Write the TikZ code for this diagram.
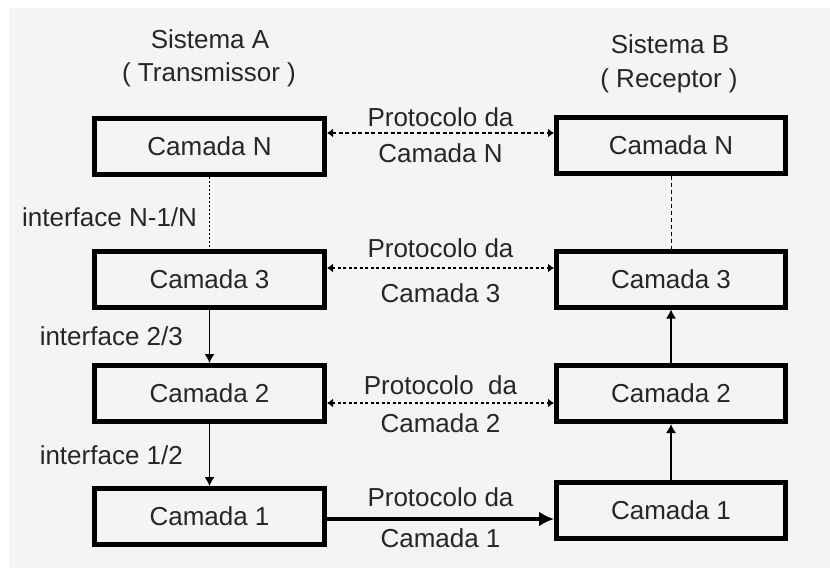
\documentclass[tikz,border=0pt]{standalone}
\usepackage{fontspec}
\setmainfont{Liberation Sans}
\usetikzlibrary{arrows.meta}
\definecolor{fundo}{HTML}{F4F4F4}
\tikzset{
  texto/.style={font=\fontsize{26}{30}\selectfont, inner sep=0pt, text=black!85},
  camada/.style={texto, draw=black, line width=5pt, minimum width=230pt, minimum height=56pt},
  protocolo/.style={line width=1.3pt, {Latex[length=6pt,width=9pt]}-{Latex[length=6pt,width=9pt]}},
  desce/.style={line width=1.3pt, -{Latex[length=9pt,width=10pt]}},
  pontilhado/.style={line width=1pt, dash pattern=on 2pt off 2pt}
}
\begin{document}
\begin{tikzpicture}[x=1pt,y=-1pt]
\useasboundingbox (0,0) rectangle (830,568);
\fill[white] (0,0) rectangle (830,568);
\fill[fundo] (9,8) rectangle (830,568);

% Sistema A (esquerda)
\node[texto, anchor=base] (tituloA) at (210,48) {Sistema A};
\node[texto, anchor=base] (papelA) at (209,81.5) {( Transmissor )};
\node[camada] (aN) at (209.5,146.5) {Camada N};
\node[camada] (a3) at (209.5,279.5) {Camada 3};
\node[camada] (a2) at (209.5,393.5) {Camada 2};
\node[camada] (a1) at (209.5,516.5) {Camada 1};

% Sistema B (direita)
\node[texto, anchor=base] (tituloB) at (670,53) {Sistema B};
\node[texto, anchor=base] (papelB) at (669,87) {( Receptor )};
\node[camada, minimum width=229pt] (bN) at (671,145) {Camada N};
\node[camada, minimum width=229pt] (b3) at (671,279) {Camada 3};
\node[camada, minimum width=229pt] (b2) at (671,393.5) {Camada 2};
\node[camada, minimum width=229pt] (b1) at (671,510) {Camada 1};

% interfaces
\draw[pontilhado] (aN) -- (a3)
  node[texto, midway, left=12pt, yshift=-4pt] (ifN) {interface N-1/N};
\draw[desce] (a3) -- (a2)
  node[texto, midway, left=26pt] (if23) {interface 2/3};
\draw[desce] (a2) -- (a1)
  node[texto, midway, left=26pt] (if12) {interface 1/2};
\draw[pontilhado, dash pattern=on 4pt off 3pt] (bN) -- (b3);
\draw[desce] (b1) -- (b2);
\draw[desce] (b2) -- (b3);

% protocolos entre camadas pares
\draw[protocolo, dash pattern=on 4pt off 2.5pt] ([yshift=13.5pt]aN.east) -- ([yshift=13.5pt]aN.east -| bN.west)
  node[texto, midway, yshift=16pt] (pN) {Protocolo da}
  node[texto, midway, yshift=-20pt] (cN) {Camada N};
\draw[protocolo, dash pattern=on 3pt off 2.5pt] ([yshift=11.5pt]a3.east) -- ([yshift=11.5pt]a3.east -| b3.west)
  node[texto, midway, yshift=20pt] (p3) {Protocolo da}
  node[texto, midway, yshift=-25pt] (c3) {Camada 3};
\draw[protocolo, dash pattern=on 3pt off 2.5pt] ([yshift=-9.5pt]a2.east) -- ([yshift=-9.5pt]a2.east -| b2.west)
  node[texto, midway, yshift=18pt] (p2) {Protocolo\ \ da}
  node[texto, midway, yshift=-20pt] (c2) {Camada 2};
\draw[line width=4pt, -{Latex[length=15pt,width=15pt]}] ([yshift=-2.5pt]a1.east) -- ([yshift=-2.5pt]a1.east -| b1.west)
  node[texto, midway, yshift=22pt] (p1) {Protocolo da}
  node[texto, midway, yshift=-19pt] (c1) {Camada 1};
\end{tikzpicture}
\end{document}
